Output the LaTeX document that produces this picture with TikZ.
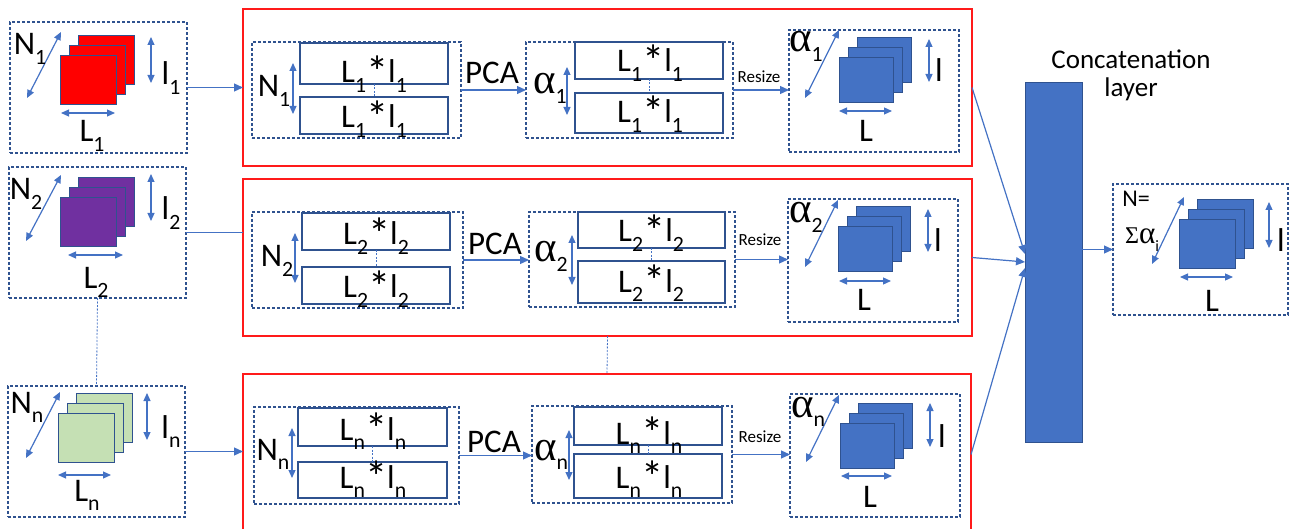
\documentclass[tikz,border=0pt]{standalone}
\usepackage{fontspec}
\usepackage{graphicx}
\setmainfont{Carlito}
\newfontfamily\grk{Liberation Serif}
\usetikzlibrary{arrows.meta}

\definecolor{lnk}{HTML}{4472C4}
\definecolor{frm}{HTML}{2F528F}
\definecolor{sqred}{HTML}{FF0000}
\definecolor{sqpur}{HTML}{7030A0}
\definecolor{sqgrn}{HTML}{C5E0B4}
\definecolor{sqblu}{HTML}{4472C4}
\definecolor{rowred}{HTML}{FF1A1A}

% lowered, reduced subscript in the style of the labels
\newcommand{\sbx}[1]{\raisebox{-0.3em}{\scalebox{0.66}{#1}}}
\newcommand{\al}{{\grk\scalebox{1.3}{α}}}
\newcommand{\astr}{\raisebox{-0.14em}{\scalebox{1.35}{*}}}
\newcommand{\prodlbl}[1]{L\sbx{#1}\astr l\sbx{#1}}

\tikzset{
  dbox/.style={draw=frm, line width=1.1pt, dash pattern=on 3pt off 2pt, inner sep=0pt, outer sep=0pt},
  srect/.style={draw=frm, line width=1.1pt, inner sep=0pt, outer sep=0pt},
  redbox/.style={draw=rowred, line width=1.5pt, inner sep=0pt, outer sep=0pt},
  sheet/.style={draw=frm, line width=1pt, inner sep=0pt, outer sep=0pt},
  bar/.style={fill=sqblu, draw=frm, line width=0.8pt, inner sep=0pt, outer sep=0pt},
  link/.style={draw=lnk, line width=1.2pt, -{Triangle[length=9pt,width=8pt]}},
  plainlink/.style={draw=lnk, line width=1.2pt},
  dotlink/.style={draw=lnk, line width=0.8pt, dash pattern=on 2pt off 1.5pt},
  dimarr/.style={draw=lnk, line width=1.2pt, {Triangle[length=8pt,width=7pt]}-{Triangle[length=8pt,width=7pt]}},
  lbl/.style={font=\fontsize{33}{36}\selectfont, inner sep=0pt, anchor=base},
  mid/.style={font=\fontsize{24}{26}\selectfont, inner sep=0pt, anchor=base},
  small/.style={font=\fontsize{17}{19}\selectfont, inner sep=0pt, anchor=base},
}

% box node from its top-left and bottom-right corners
\newcommand{\pbox}[6]{%
  \pgfmathsetmacro\pbw{#5-#3}\pgfmathsetmacro\pbh{#6-#4}%
  \node[#1, anchor=north west, minimum width=\pbw pt, minimum height=\pbh pt] (#2) at (#3,#4) {};}

% three stacked sheets, front sheet given by its top-left corner
\newcommand{\stack}[6]{%
  \node[sheet, fill=#6, anchor=north west, minimum width=#4pt, minimum height=#5pt] (#1c) at ([shift={(18,-20)}]#2,#3) {};
  \node[sheet, fill=#6, anchor=north west, minimum width=#4pt, minimum height=#5pt] (#1b) at ([shift={(9,-10)}]#2,#3) {};
  \node[sheet, fill=#6, anchor=north west, minimum width=#4pt, minimum height=#5pt] (#1a) at (#2,#3) {};}

\begin{document}
\begin{tikzpicture}[x=1pt, y=-1pt]
\useasboundingbox (0,0) rectangle (1290,529);
\clip (0,0) rectangle (1290,529);

% ---- input volumes ----
\pbox{dbox}{in1}{10}{22}{187}{153}
\pbox{dbox}{in2}{9}{167}{186}{298}
\pbox{dbox}{in3}{8}{386}{185}{517}
\stack{s1}{60}{56}{56}{49}{sqred}
\stack{s2}{60}{198}{56}{49}{sqpur}
\stack{s3}{58}{413}{56}{49}{sqgrn}

\draw[dimarr] (27,98) -- (61,32);
\draw[dimarr] (151,37) -- (151,83);
\draw[dimarr] (61,113) -- (115,113);
\draw[dimarr] (26,241) -- (61,175);
\draw[dimarr] (151,174) -- (151,221);
\draw[dimarr] (68,255) -- (123,255);
\draw[dimarr] (26,458) -- (60,392);
\draw[dimarr] (147,393) -- (147,440);
\draw[dimarr] (58,475) -- (111,475);

\node[lbl] (n1) at (30,55) {N\sbx{1}};
\node[lbl] (h1) at (171,85) {l\sbx{1}};
\node[lbl] (w1) at (92,142) {L\sbx{1}};
\node[lbl] (n2) at (26,200) {N\sbx{2}};
\node[lbl] (h2) at (171,220) {l\sbx{2}};
\node[lbl] (w2) at (96,288) {L\sbx{2}};
\node[lbl] (n3) at (27,413) {N\sbx{n}};
\node[lbl] (h3) at (171,438) {l\sbx{n}};
\node[lbl] (w3) at (87,501) {L\sbx{n}};

% ---- processing rows ----
\pbox{redbox}{red1}{243}{9}{972}{166}
\pbox{redbox}{red2}{243}{179}{972}{336}
\pbox{redbox}{red3}{243}{374}{971}{535}

% flattened blocks
\pbox{dbox}{nb1}{252}{42}{461}{138}
\pbox{dbox}{nb2}{252}{212}{463}{308}
\pbox{dbox}{nb3}{254}{407}{459}{504}
\pbox{srect}{nt1}{300}{43}{448}{84}
\pbox{srect}{nu1}{300}{97}{448}{134}
\pbox{srect}{nt2}{302}{213}{450}{250}
\pbox{srect}{nu2}{302}{267}{450}{304}
\pbox{srect}{nt3}{298}{408}{447}{446}
\pbox{srect}{nu3}{298}{462}{447}{498}
\draw[dotlink] (nt1.south) -- (nu1.north);
\draw[dotlink] (nt2.south) -- (nu2.north);
\draw[dotlink] (nt3.south) -- (nu3.north);
\draw[dimarr] (293,63) -- (293,114);
\draw[dimarr] (295,233) -- (295,283);
\draw[dimarr] (292,428) -- (292,478);

% reduced blocks
\pbox{dbox}{ab1}{526}{42}{733}{138}
\pbox{dbox}{ab2}{529}{212}{735}{307}
\pbox{dbox}{ab3}{532}{406}{732}{503}
\pbox{srect}{at1}{575}{42}{723}{79}
\pbox{srect}{au1}{575}{93}{723}{133}
\pbox{srect}{at2}{578}{212}{725}{248}
\pbox{srect}{au2}{578}{261}{725}{303}
\pbox{srect}{at3}{574}{407}{722}{445}
\pbox{srect}{au3}{574}{454}{722}{498}
\draw[dotlink] (at1.south) -- (au1.north);
\draw[dotlink] (at2.south) -- (au2.north);
\draw[dotlink] (at3.south) -- (au3.north);
\draw[dimarr] (567,67) -- (567,115);
\draw[dimarr] (572,235) -- (572,285);
\draw[dimarr] (569,430) -- (569,480);

% resized volumes
\pbox{dbox}{ob1}{789}{30}{959}{152}
\pbox{dbox}{ob2}{788}{199}{958}{322}
\pbox{dbox}{ob3}{790}{394}{960}{517}
\stack{r1}{839}{58}{54}{45}{sqblu}
\stack{r2}{838}{227}{54}{45}{sqblu}
\stack{r3}{840}{423}{54}{45}{sqblu}
\draw[dimarr] (805,98) -- (839,30);
\draw[dimarr] (929,39) -- (929,82);
\draw[dimarr] (839,111) -- (892,111);
\draw[dimarr] (805,267) -- (838,200);
\draw[dimarr] (928,209) -- (928,252);
\draw[dimarr] (839,281) -- (891,281);
\draw[dimarr] (806,462) -- (839,395);
\draw[dimarr] (930,403) -- (930,447);
\draw[dimarr] (841,476) -- (892,476);

% row flows
\draw[link] (in1.east) -- (red1.west);
\draw[plainlink] (in2.east) -- (in2.east -| red2.west);
\draw[link] (in3.east) -- (in3.east -| red3.west);
\draw[dotlink] (in2.south) -- (in3.north);
\draw[dotlink] (red2.south) -- (red3.north);

\draw[link] (nb1.east) -- (nb1.east -| ab1.west);
\draw[link] (nb2.east) -- (nb2.east -| ab2.west);
\draw[link] (nb3.east) -- (nb3.east -| ab3.west);
\draw[link] (ab1.east) -- (ab1.east -| ob1.west);
\draw[link] (ab2.east) -- (ab2.east -| ob2.west);
\draw[link] (ab3.east) -- (ab3.east -| ob3.west);

% row labels
\node[lbl] (bn1) at (274,97) {N\sbx{1}};
\node[lbl] (bt1) at (374,83) {\prodlbl{1}};
\node[lbl] (bb1) at (374,128) {\prodlbl{1}};
\node[lbl] (pc1) at (492,84) {PCA};
\node[lbl] (ba1) at (550,94) {\al\sbx{1}};
\node[lbl] (ct1) at (650,72) {\prodlbl{1}};
\node[lbl] (cb1) at (650,123) {\prodlbl{1}};
\node[small] (rs1) at (759,83) {Resize};
\node[lbl] (oa1) at (806,52) {\al\sbx{1}};
\node[lbl] (oh1) at (939,82) {l};
\node[lbl] (ow1) at (866,142) {L};

\node[lbl] (bn2) at (277,267) {N\sbx{2}};
\node[lbl] (bt2) at (376,245) {\prodlbl{2}};
\node[lbl] (bb2) at (376,298) {\prodlbl{2}};
\node[lbl] (pc2) at (495,255) {PCA};
\node[lbl] (ba2) at (551,262) {\al\sbx{2}};
\node[lbl] (ct2) at (651,242) {\prodlbl{2}};
\node[lbl] (cb2) at (651,292) {\prodlbl{2}};
\node[small] (rs2) at (760,246) {Resize};
\node[lbl] (oa2) at (806,223) {\al\sbx{2}};
\node[lbl] (oh2) at (938,252) {l};
\node[lbl] (ow2) at (864,310) {L};

\node[lbl] (bn3) at (273,460) {N\sbx{n}};
\node[lbl] (bt3) at (373,440) {\prodlbl{n}};
\node[lbl] (bb3) at (373,488) {\prodlbl{n}};
\node[lbl] (pc3) at (494,452) {PCA};
\node[lbl] (ba3) at (551,460) {\al\sbx{n}};
\node[lbl] (ct3) at (649,444) {\prodlbl{n}};
\node[lbl] (cb3) at (649,488) {\prodlbl{n}};
\node[small] (rs3) at (760,442) {Resize};
\node[lbl] (oa3) at (808,417) {\al\sbx{n}};
\node[lbl] (oh3) at (942,447) {l};
\node[lbl] (ow3) at (870,507) {L};

% ---- concatenation ----
\pbox{bar}{cat}{1025}{82}{1082}{442}
\node[font=\fontsize{27}{27.5}\selectfont, align=center, anchor=north, inner sep=0pt] (catl) at (1131,50) {Concatenation\\layer};
\draw[link] (red1.east) -- ([yshift=8pt]cat.west);
\draw[link] (red2.east) -- (cat.west);
\draw[link] (red3.east) -- ([yshift=-6pt]cat.west);

% ---- output volume ----
\pbox{dbox}{fin}{1113}{184}{1288}{315}
\stack{f}{1179}{220}{56}{49}{sqblu}
\draw[dimarr] (1152,264) -- (1184,197);
\draw[dimarr] (1269,202) -- (1269,248);
\draw[dimarr] (1180,277) -- (1233,277);
\draw[link] (fin.west -| cat.east) -- (fin.west);
\node[mid] (fn) at (1136,207) {N=};
\node[mid] (fs) at (1142,244) {{\grk Σ}\al\sbx{i}};
\node[lbl] (fh) at (1281,252) {l};
\node[lbl] (fw) at (1212,312) {L};
\end{tikzpicture}
\end{document}
